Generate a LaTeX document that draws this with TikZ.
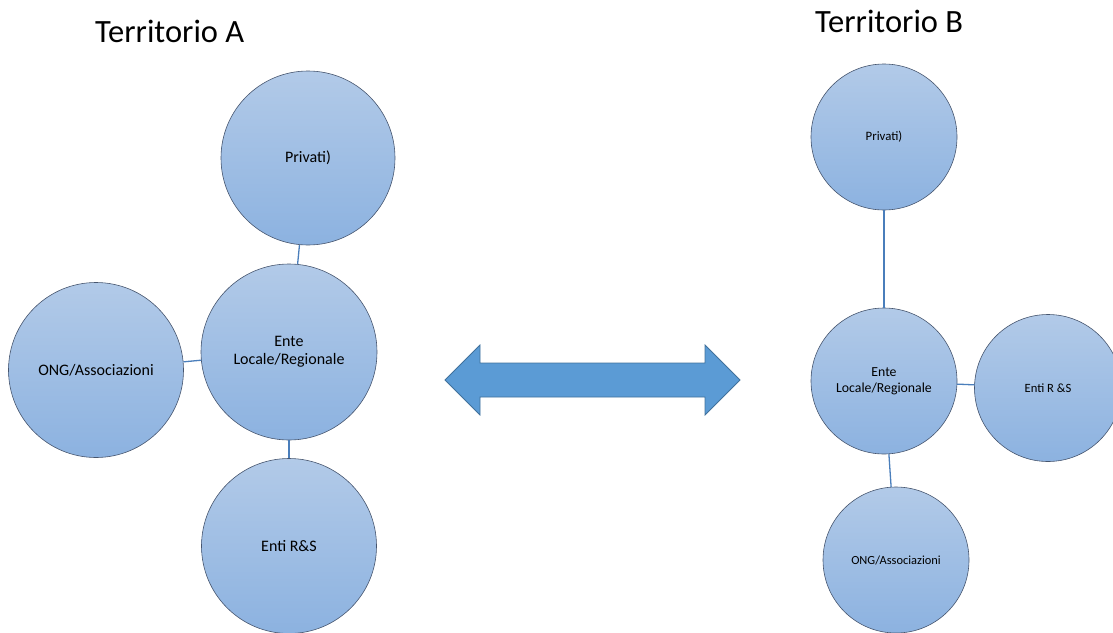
\documentclass[tikz,border=0pt]{standalone}
\usepackage{fontspec}
\setmainfont{Carlito}
\begin{document}
\begin{tikzpicture}[x=1pt,y=-1pt,
  actor/.style={circle,draw=bubbleLine,line width=0.6pt,
    top color=bubbleTop,bottom color=bubbleBot,minimum size=#1,inner sep=0pt,
    align=center,text=black},
  link/.style={draw=linkBlue,line width=1.3pt},
  title/.style={font=\fontsize{32.5}{36}\selectfont,anchor=base west,inner sep=0pt}]
\definecolor{bubbleTop}{RGB}{178,202,232}
\definecolor{bubbleBot}{RGB}{140,178,224}
\definecolor{bubbleLine}{RGB}{70,85,110}
\definecolor{linkBlue}{RGB}{74,126,187}
\definecolor{arrowFill}{RGB}{91,155,213}
\definecolor{arrowLine}{RGB}{65,113,156}
\useasboundingbox (0,0) rectangle (1113,632);

% titles
\node[title] (tA) at (95,42) {Territorio A};
\node[title] (tB) at (815,32) {Territorio B};

% Territorio A
\node[actor=174pt,font=\fontsize{16}{18}\selectfont] (pA) at (308,158) {Privati)};
\node[actor=176pt,font=\fontsize{16}{18}\selectfont] (eA) at (289,352) {Ente\\Locale/Regionale};
\node[actor=175pt,font=\fontsize{16}{18}\selectfont] (oA) at (96,370) {ONG/Associazioni};
\node[actor=175pt,font=\fontsize{16}{18}\selectfont] (rA) at (289,546) {Enti R\&S};
\draw[link] (pA) -- (eA);
\draw[link] (oA) -- (eA);
\draw[link] (eA) -- (rA);

% Territorio B
\node[actor=146pt,font=\fontsize{12.8}{15}\selectfont] (pB) at (884,137) {Privati)};
\node[actor=146pt,font=\fontsize{13.8}{16}\selectfont] (eB) at (884,381) {Ente\\Locale/Regionale};
\node[actor=147pt,font=\fontsize{12.6}{15}\selectfont] (rB) at (1048,388) {Enti R \&S};
\node[actor=146pt,font=\fontsize{12.4}{15}\selectfont] (oB) at (896,560) {ONG/Associazioni};
\draw[link] (pB) -- (eB);
\draw[link] (eB) -- (rB);
\draw[link] (eB) -- (oB);

% exchange between the two territories
\filldraw[fill=arrowFill,draw=arrowLine,line width=0.8pt]
  (445,380) -- (480,345) -- (480,363) -- (705,363) -- (705,345) -- (740,380)
  -- (705,415) -- (705,397) -- (480,397) -- (480,415) -- cycle;
\end{tikzpicture}
\end{document}
